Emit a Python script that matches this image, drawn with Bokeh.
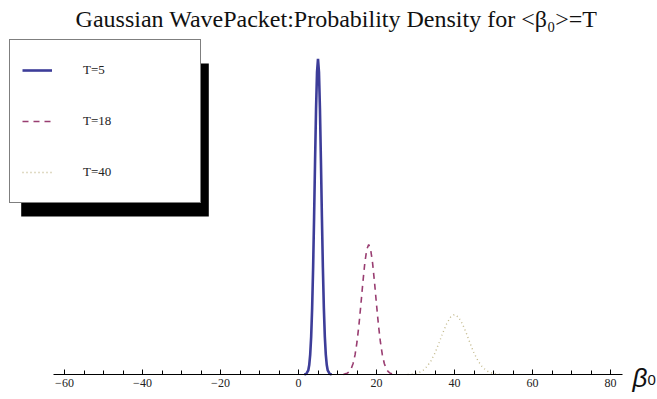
from bokeh.plotting import figure
from bokeh.models import (Range1d, LinearAxis, SingleIntervalTicker, Legend, LegendItem,
                          BoxAnnotation, Label)
from bokeh.core.properties import value
from bokeh.embed import file_html
from bokeh.resources import INLINE

# ---- data ----
blue_x = [1.5, 2.0, 2.5, 2.75, 3.0, 3.25, 3.5, 3.75, 4.0, 4.25, 4.5, 4.75, 5.0,
          5.25, 5.5, 5.75, 6.0, 6.25, 6.5, 6.75, 7.0, 7.25, 7.5, 8.0, 8.5]
blue_y = [0.0, 0.002, 0.013, 0.030, 0.063, 0.120, 0.211, 0.339, 0.500, 0.678, 0.841, 0.958, 1.000,
          0.958, 0.841, 0.678, 0.500, 0.339, 0.211, 0.120, 0.063, 0.030, 0.013, 0.002, 0.0]

red_x = [11.5, 12.0, 12.5, 13.0, 13.5, 14.0, 14.5, 15.0, 15.5, 16.0, 16.5, 17.0, 17.5, 18.0,
         18.5, 19.0, 19.5, 20.0, 20.5, 21.0, 21.5, 22.0, 22.5, 23.0, 23.5, 24.0, 24.5]
red_y = [0.0, 0.002, 0.004, 0.009, 0.018, 0.035, 0.062, 0.103, 0.157, 0.222, 0.291, 0.353, 0.396, 0.412,
         0.396, 0.353, 0.291, 0.222, 0.157, 0.103, 0.062, 0.035, 0.018, 0.009, 0.004, 0.002, 0.0]

dot_x = [28, 29, 30, 31, 32, 33, 34, 35, 36, 37, 38, 39, 40,
         41, 42, 43, 44, 45, 46, 47, 48, 49, 50, 51, 52]
dot_y = [0.0, 0.001, 0.003, 0.007, 0.014, 0.026, 0.044, 0.068, 0.099, 0.132, 0.161, 0.182, 0.190,
         0.182, 0.161, 0.132, 0.099, 0.068, 0.044, 0.026, 0.014, 0.007, 0.003, 0.001, 0.0]

labels = ["T=5", "T=18", "T=40"]
title_text = "Gaussian WavePacket:Probability Density for <β₀>=T"

# ---- layout helpers (canvas pixel -> data) ----
W, H = 657, 399
X0_PX, PX_PER_X = 298.0, 3.9
Y0_PX, PX_PER_Y = 374.0, 315.7
def px2x(px): return (px - X0_PX) / PX_PER_X
def px2y(py): return (Y0_PX - py) / PX_PER_Y

p = figure(width=W, height=H,
           x_range=Range1d(px2x(0), px2x(W)),
           y_range=Range1d(px2y(H), px2y(0)),
           output_backend="svg", toolbar_location=None,
           x_axis_type=None, y_axis_type=None, title=None,
           min_border=0,
           outline_line_color=None,
           background_fill_color="white", border_fill_color="white")

xaxis = LinearAxis(ticker=SingleIntervalTicker(interval=20, num_minor_ticks=4),
                   fixed_location=0, bounds=(-62.8, 83.0),
                   axis_line_color="black", axis_line_width=1,
                   major_tick_line_color="black", minor_tick_line_color="black",
                   major_tick_in=5, major_tick_out=0,
                   minor_tick_in=4, minor_tick_out=0,
                   major_label_standoff=4,
                   major_label_text_font="Liberation Serif",
                   major_label_text_font_size="12px",
                   major_label_text_color="#222222")
p.add_layout(xaxis, "below")

r1 = p.line(blue_x, blue_y, line_color="#3d3d99", line_width=2.6)
r2 = p.line(red_x, red_y, line_color="#993d71", line_width=1.6, line_dash="6 5")
r3 = p.line(dot_x, dot_y, line_color="#a89a58", line_width=1.4, line_dash="1 3", line_alpha=0.7)

# legend shadow
shadow = BoxAnnotation(left=px2x(20.7), right=px2x(208.3), top=px2y(63), bottom=px2y(216),
                       fill_color="black", fill_alpha=1.0, line_color=None)
p.add_layout(shadow)

legend = Legend(items=[LegendItem(label=value(labels[0]), renderers=[r1]),
                       LegendItem(label=value(labels[1]), renderers=[r2]),
                       LegendItem(label=value(labels[2]), renderers=[r3])],
                location=(9, 196), orientation="vertical",
                glyph_width=30, glyph_height=36, padding=12, spacing=15,
                label_standoff=31, label_width=105, margin=0,
                border_line_color="black", border_line_width=1,
                background_fill_color="white", background_fill_alpha=1.0,
                label_text_font="Liberation Serif", label_text_font_size="13px",
                label_text_color="#222222")
p.add_layout(legend)

p.add_layout(Label(x=px2x(336), y=px2y(18.5), text=title_text,
                   text_font="Liberation Serif", text_font_size="24px",
                   text_align="center", text_baseline="alphabetic", text_color="#111111"))

p.add_layout(Label(x=px2x(632), y=px2y(377), text="β",
                   text_font="Liberation Sans", text_font_style="italic", text_font_size="26px",
                   text_align="left", text_baseline="alphabetic", text_color="#111111"))
p.add_layout(Label(x=px2x(647), y=px2y(379), text="0",
                   text_font="Liberation Sans", text_font_size="15px",
                   text_align="left", text_baseline="alphabetic", text_color="#111111"))

open("out.html", "w").write(file_html(p, INLINE))
